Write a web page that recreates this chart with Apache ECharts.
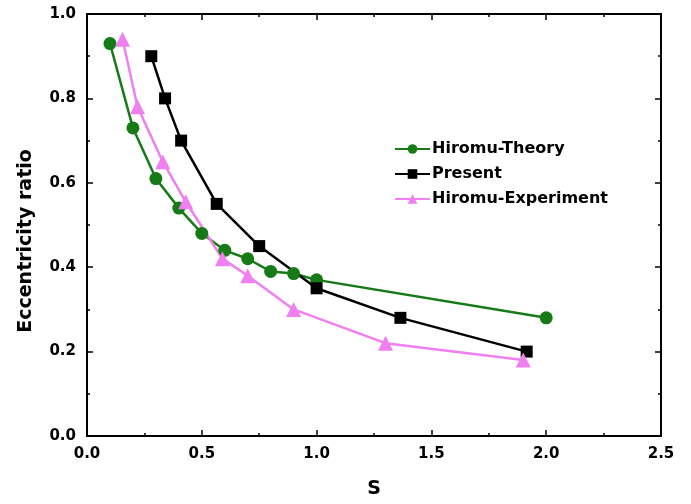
<!DOCTYPE html>
<html><head><meta charset="utf-8">
<script src="https://cdn.jsdelivr.net/npm/echarts@6/dist/echarts.min.js"></script>
<style>html,body{margin:0;padding:0;background:#fff}#c{width:691px;height:504px}</style>
</head><body><div id="c"></div>
<script>
var theoryS = [0.1, 0.2, 0.3, 0.4, 0.5, 0.6, 0.7, 0.8, 0.9, 1.0, 2.0];
var theoryE = [0.93, 0.73, 0.61, 0.54, 0.48, 0.44, 0.42, 0.39, 0.385, 0.37, 0.28];
var presentS = [0.28, 0.34, 0.41, 0.565, 0.75, 1.0, 1.365, 1.915];
var presentE = [0.90, 0.80, 0.70, 0.55, 0.45, 0.35, 0.28, 0.20];
var expS = [0.155, 0.22, 0.33, 0.43, 0.59, 0.70, 0.90, 1.30, 1.90];
var expE = [0.94, 0.78, 0.65, 0.555, 0.42, 0.38, 0.30, 0.22, 0.18];
var xTicks = ['0.0','0.5','1.0','1.5','2.0','2.5'];
var yTicks = ['0.0','0.2','0.4','0.6','0.8','1.0'];

function pairs(a,b){return a.map(function(v,i){return [v,b[i]];});}
var font = '"DejaVu Sans", Arial, sans-serif';
var axisLine = {show:true, onZero:false, lineStyle:{color:'#000', width:2}};
var tickIn = {show:true, inside:true, length:6, lineStyle:{color:'#000', width:1.5}};
var minorIn = {show:true, splitNumber:2, length:3, lineStyle:{color:'#000', width:1.5}};

var chart = echarts.init(document.getElementById('c'), null, {renderer:'canvas'});
chart.setOption({
  animation:false,
  backgroundColor:'#fff',
  grid:{left:87, right:30, top:14, bottom:65},
  legend:{
    orient:'vertical', left:389, top:136, itemGap:9, itemWidth:35, itemHeight:12,
    textStyle:{fontFamily:font, fontWeight:'bold', fontSize:16, lineHeight:16, color:'#000', padding:[0,0,0,-3]},
    data:['Hiromu-Theory','Present','Hiromu-Experiment']
  },
  graphic:[{
    type:'text', x:26, y:241, rotation:Math.PI/2,
    style:{text:'Eccentricity ratio', font:'bold 19px "DejaVu Sans", Arial, sans-serif',
      fill:'#000', align:'center', verticalAlign:'middle'}
  }],
  xAxis:[{
    type:'value', min:0, max:2.5, interval:0.5, position:'bottom',
    name:'S', nameLocation:'middle', nameGap:44,
    nameTextStyle:{fontFamily:font, fontWeight:'bold', fontSize:19, color:'#000'},
    axisLine:axisLine, axisTick:tickIn, minorTick:minorIn,
    axisLabel:{fontFamily:font, fontWeight:'bold', fontSize:15, color:'#000', margin:11,
      formatter:function(v){return xTicks[Math.round(v/0.5)];}},
    splitLine:{show:false}
  },{
    type:'value', min:0, max:2.5, interval:0.5, position:'top',
    axisLine:axisLine, axisTick:tickIn, minorTick:minorIn,
    axisLabel:{show:false}, splitLine:{show:false}
  }],
  yAxis:[{
    type:'value', min:0, max:1.0, interval:0.2, position:'left',
    axisLine:axisLine, axisTick:tickIn, minorTick:minorIn,
    axisLabel:{fontFamily:font, fontWeight:'bold', fontSize:15, color:'#000', margin:11,
      formatter:function(v){return yTicks[Math.round(v/0.2)];}},
    splitLine:{show:false}
  },{
    type:'value', min:0, max:1.0, interval:0.2, position:'right',
    axisLine:axisLine, axisTick:tickIn, minorTick:minorIn,
    axisLabel:{show:false}, splitLine:{show:false}
  }],
  series:[{
    name:'Hiromu-Theory', type:'line', data:pairs(theoryS, theoryE),
    symbol:'circle', symbolSize:13,
    lineStyle:{color:'#167a16', width:2.5}, itemStyle:{color:'#167a16'}
  },{
    name:'Present', type:'line', data:pairs(presentS, presentE),
    symbol:'rect', symbolSize:12,
    lineStyle:{color:'#000', width:2.5}, itemStyle:{color:'#000'}
  },{
    name:'Hiromu-Experiment', type:'line', data:pairs(expS, expE),
    symbol:'triangle', symbolSize:15,
    lineStyle:{color:'#f07ff0', width:2.5}, itemStyle:{color:'#f07ff0'}
  }]
});
</script></body></html>
